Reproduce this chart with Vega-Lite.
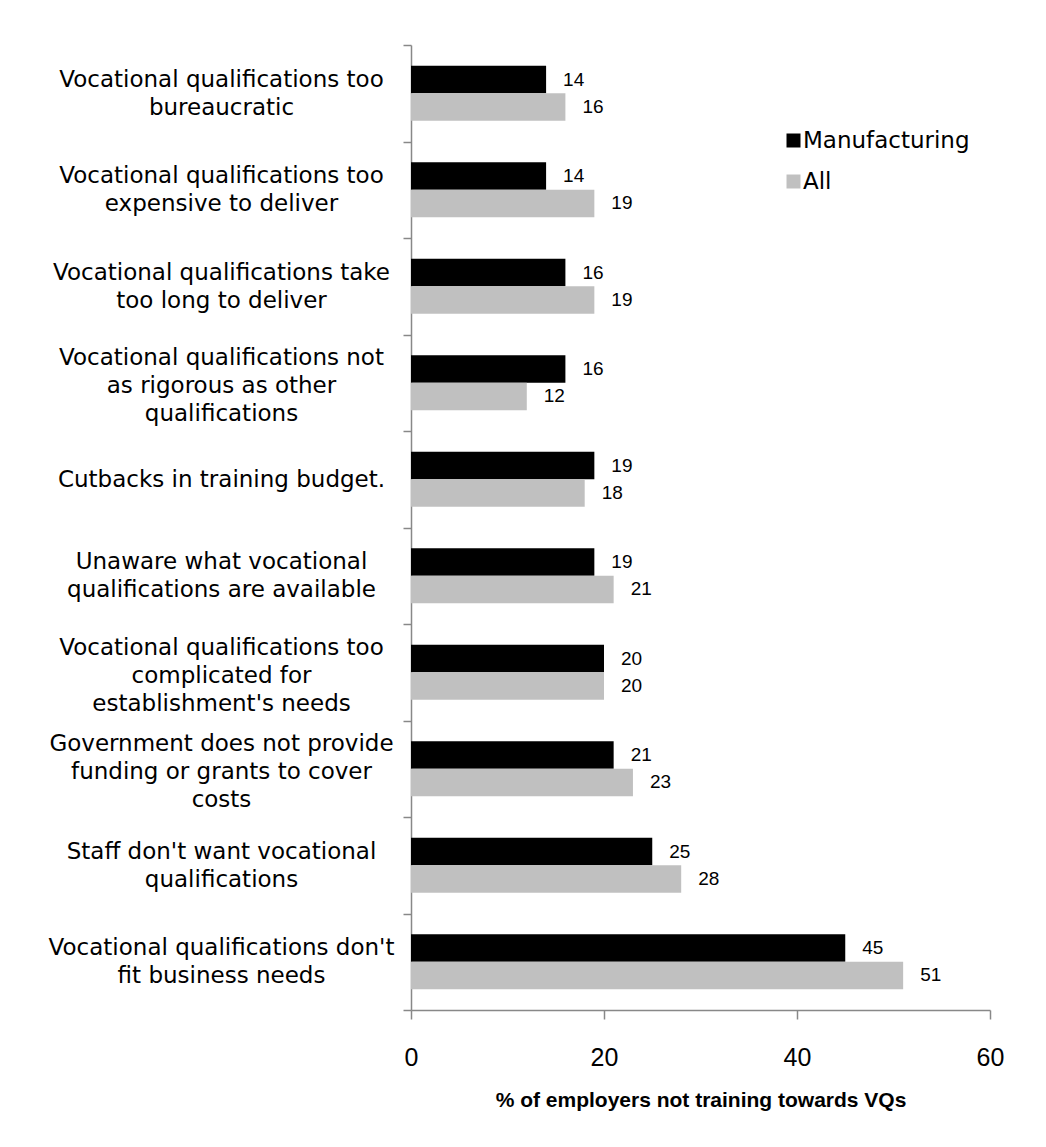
{
  "$schema": "https://vega.github.io/schema/vega-lite/v6.json",
  "autosize": "none",
  "width": 579,
  "height": 965,
  "padding": {"left": 411, "top": 45, "right": 56, "bottom": 137},
  "background": "white",
  "config": {"view": {"stroke": null}, "axis": {"grid": false}},
  "data": {
    "values": [
      {"reason": "Vocational qualifications too|bureaucratic", "series": "Manufacturing", "value": 14},
      {"reason": "Vocational qualifications too|bureaucratic", "series": "All", "value": 16},
      {"reason": "Vocational qualifications too|expensive to deliver", "series": "Manufacturing", "value": 14},
      {"reason": "Vocational qualifications too|expensive to deliver", "series": "All", "value": 19},
      {"reason": "Vocational qualifications take|too long to deliver", "series": "Manufacturing", "value": 16},
      {"reason": "Vocational qualifications take|too long to deliver", "series": "All", "value": 19},
      {"reason": "Vocational qualifications not|as rigorous as other|qualifications", "series": "Manufacturing", "value": 16},
      {"reason": "Vocational qualifications not|as rigorous as other|qualifications", "series": "All", "value": 12},
      {"reason": "Cutbacks in training budget.", "series": "Manufacturing", "value": 19},
      {"reason": "Cutbacks in training budget.", "series": "All", "value": 18},
      {"reason": "Unaware what vocational|qualifications are available", "series": "Manufacturing", "value": 19},
      {"reason": "Unaware what vocational|qualifications are available", "series": "All", "value": 21},
      {"reason": "Vocational qualifications too|complicated for|establishment's needs", "series": "Manufacturing", "value": 20},
      {"reason": "Vocational qualifications too|complicated for|establishment's needs", "series": "All", "value": 20},
      {"reason": "Government does not provide|funding or grants to cover|costs", "series": "Manufacturing", "value": 21},
      {"reason": "Government does not provide|funding or grants to cover|costs", "series": "All", "value": 23},
      {"reason": "Staff don't want vocational|qualifications", "series": "Manufacturing", "value": 25},
      {"reason": "Staff don't want vocational|qualifications", "series": "All", "value": 28},
      {"reason": "Vocational qualifications don't|fit business needs", "series": "Manufacturing", "value": 45},
      {"reason": "Vocational qualifications don't|fit business needs", "series": "All", "value": 51}
    ]
  },
  "encoding": {
    "y": {
      "field": "reason",
      "type": "nominal",
      "sort": null,
      "scale": {"paddingInner": 0, "paddingOuter": 0},
      "axis": {
        "title": null,
        "domainColor": "#888888",
        "domainWidth": 1.5,
        "tickColor": "#888888",
        "tickWidth": 1.5,
        "tickSize": 8,
        "tickBand": "extent",
        "labelAlign": "center",
        "labelBaseline": "middle",
        "labelPadding": 182,
        "labelFont": "DejaVu Sans",
        "labelFontSize": 23,
        "labelColor": "#000000",
        "labelLineHeight": 28,
        "labelLimit": 600,
        "labelOffset": {
          "condition": [
            {"test": "length(split(datum.value, '|')) == 3", "value": -25},
            {"test": "length(split(datum.value, '|')) == 2", "value": -14}
          ],
          "value": 0
        },
        "labelExpr": "split(datum.label, '|')"
      }
    },
    "yOffset": {
      "field": "series",
      "type": "nominal",
      "sort": ["Manufacturing", "All"],
      "scale": {"paddingInner": 0, "paddingOuter": 0.755}
    },
    "x": {
      "field": "value",
      "type": "quantitative",
      "scale": {"domain": [0, 60], "nice": false},
      "axis": {
        "title": "% of employers not training towards VQs",
        "titleFont": "Liberation Sans",
        "titleFontSize": 21,
        "titleFontWeight": "bold",
        "titleColor": "#000000",
        "titlePadding": 19,
        "values": [0, 20, 40, 60],
        "tickSize": 9,
        "tickColor": "#888888",
        "tickWidth": 1.5,
        "domainColor": "#888888",
        "domainWidth": 1.5,
        "labelFont": "Liberation Sans",
        "labelFontSize": 25,
        "labelColor": "#000000",
        "labelPadding": 26,
        "labelFlush": false,
        "labelOverlap": false
      }
    }
  },
  "layer": [
    {
      "mark": {"type": "bar"},
      "encoding": {
        "color": {
          "field": "series",
          "type": "nominal",
          "scale": {"domain": ["Manufacturing", "All"], "range": ["#000000", "#c0c0c0"]},
          "legend": {
            "title": null,
            "orient": "none",
            "legendX": 371,
            "legendY": 84,
            "symbolType": "square",
            "symbolSize": 196,
            "symbolStrokeWidth": 0,
            "labelFont": "DejaVu Sans",
            "labelFontSize": 23,
            "labelColor": "#000000",
            "labelOffset": -2,
            "rowPadding": 17,
            "labelLimit": 400
          }
        }
      }
    },
    {
      "mark": {"type": "text", "align": "left", "baseline": "middle", "dx": 17, "font": "Liberation Sans", "fontSize": 19, "color": "#000000"},
      "encoding": {"text": {"field": "value", "type": "quantitative"}}
    }
  ]
}
